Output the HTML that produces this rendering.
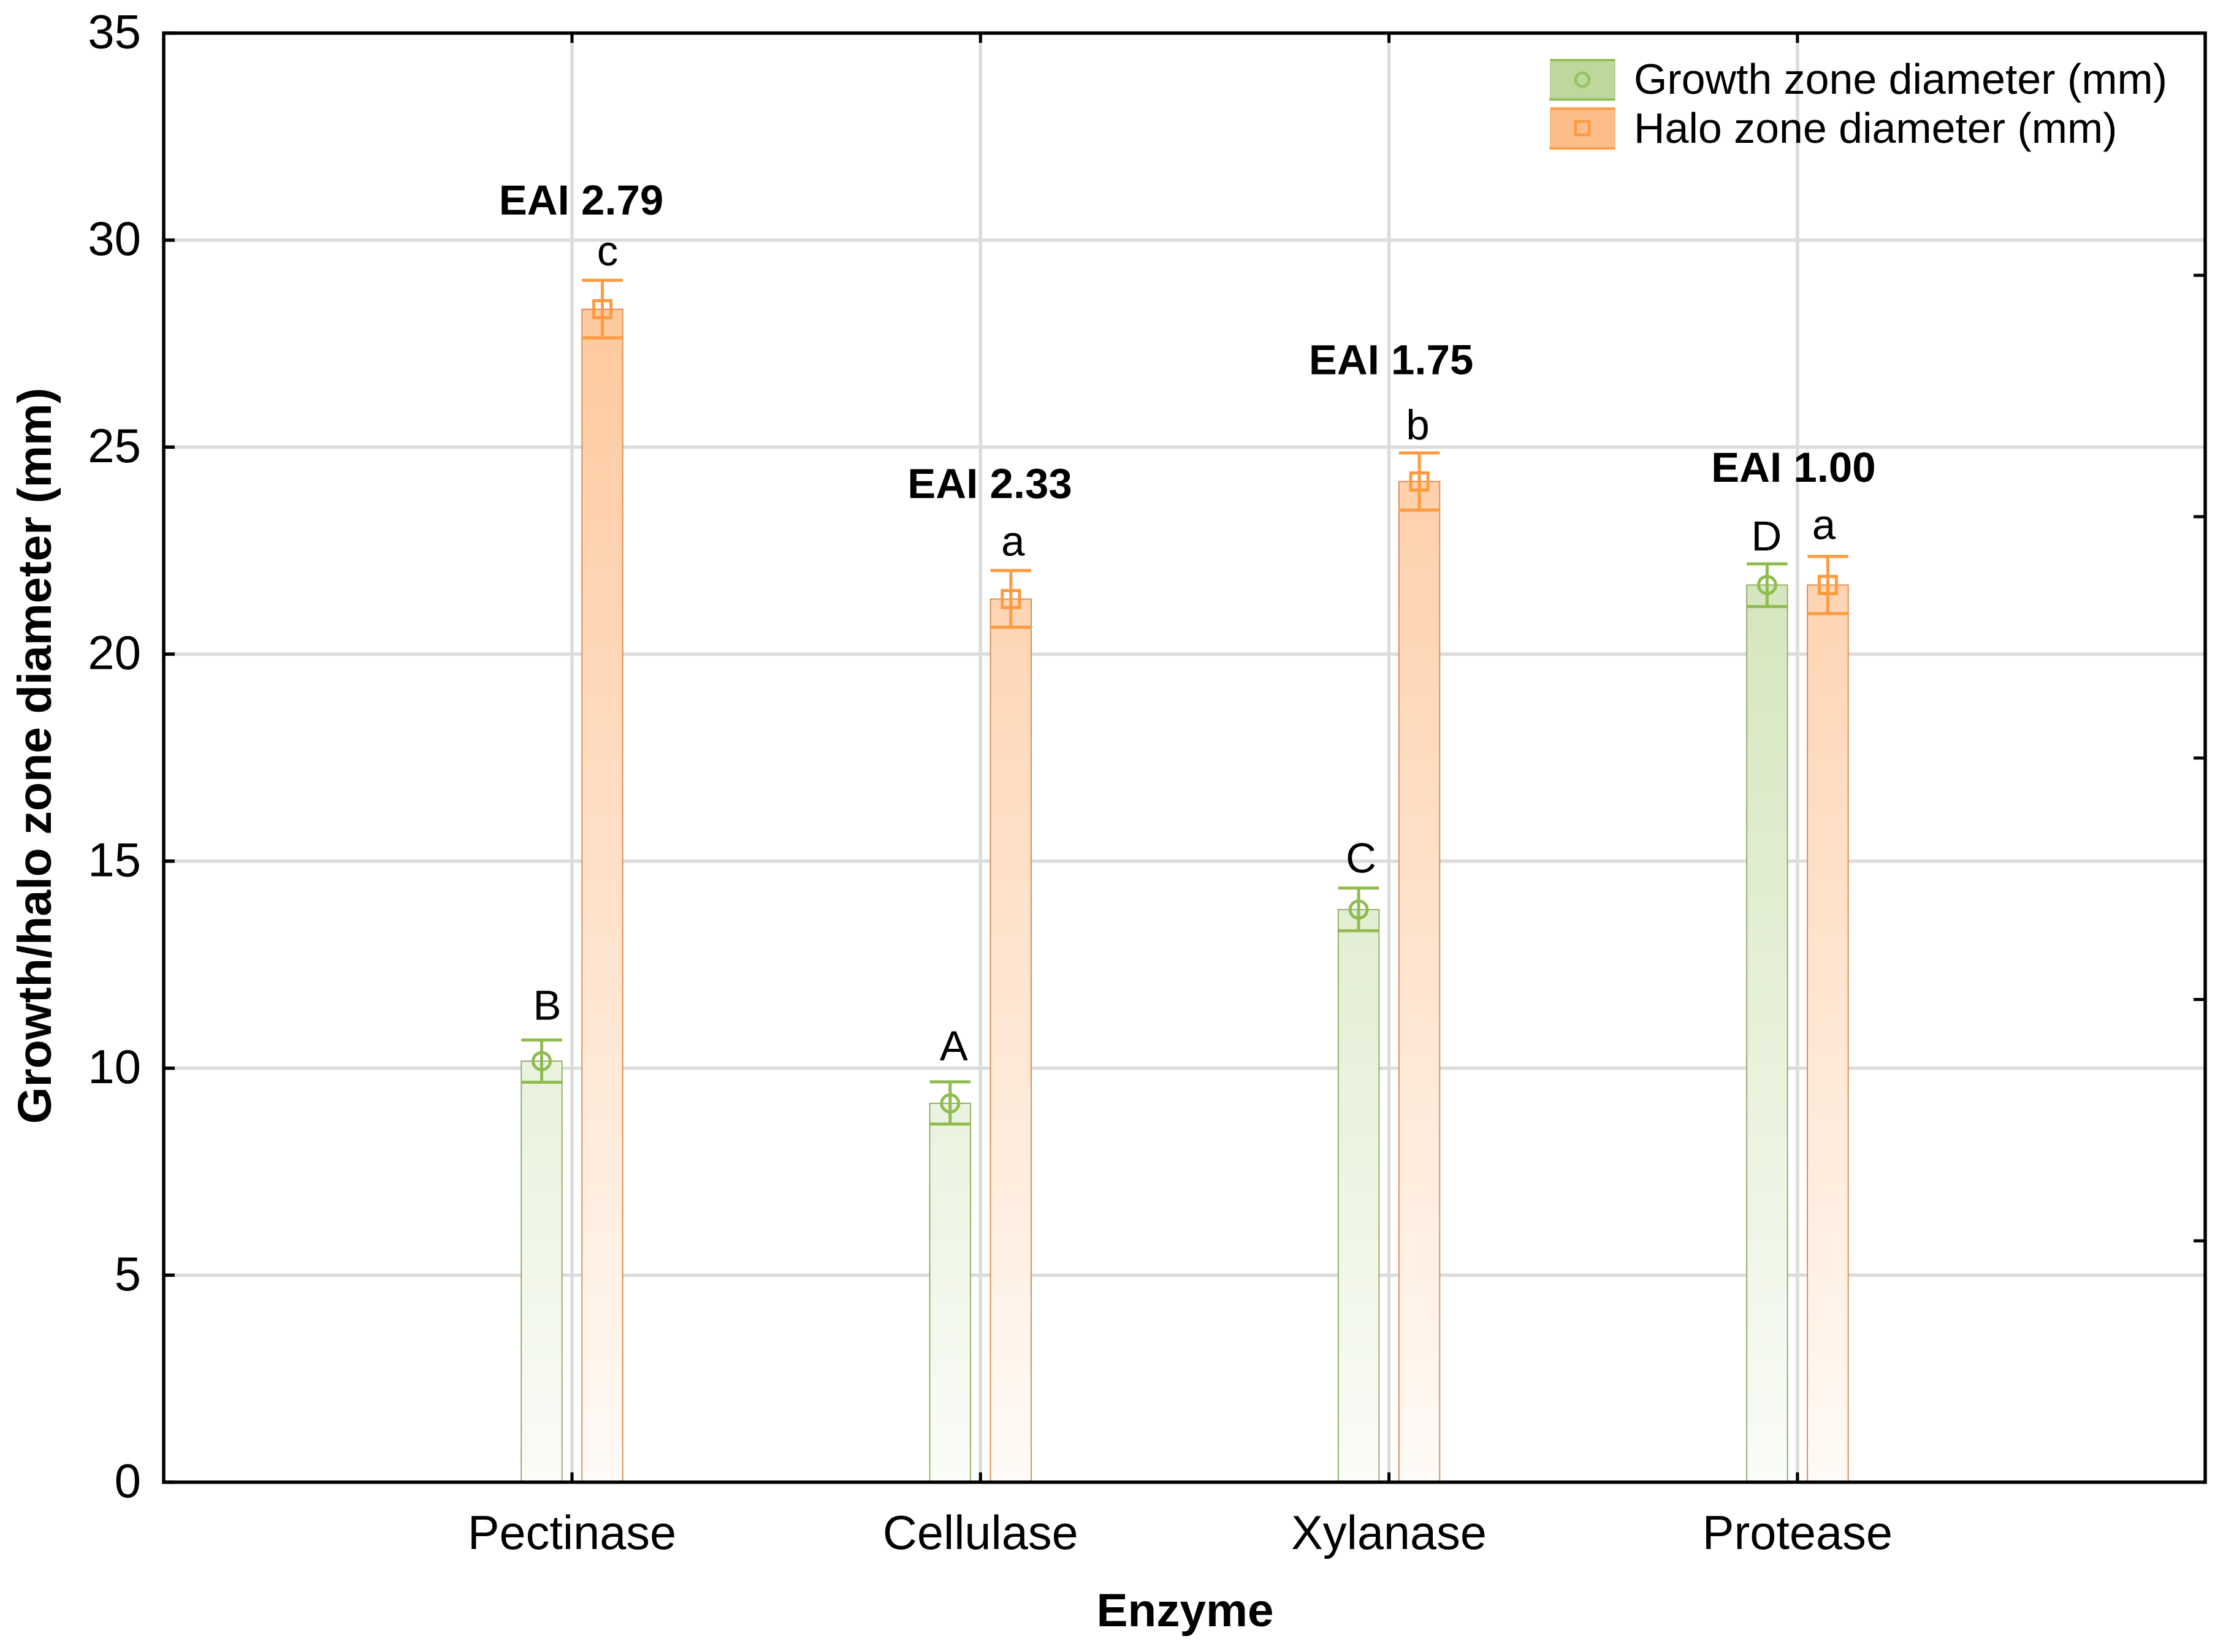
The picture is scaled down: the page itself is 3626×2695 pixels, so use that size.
<!DOCTYPE html>
<html lang="en">
<head>
<meta charset="utf-8">
<title>Growth and halo zone diameter by enzyme</title>
<style>
html,body{margin:0;padding:0;background:#fff;}
svg{display:block;font-family:"Liberation Sans",Arial,sans-serif;}
</style>
</head>
<body>
<svg id="chart" xmlns="http://www.w3.org/2000/svg" width="3626" height="2695" viewBox="0 0 3626 2695">
<defs>
<linearGradient id="greenGrad" gradientUnits="userSpaceOnUse" x1="0" y1="54" x2="0" y2="2418">
<stop offset="0" stop-color="#bdd89a"/><stop offset="1" stop-color="#fafcf7"/>
</linearGradient>
<linearGradient id="orangeGrad" gradientUnits="userSpaceOnUse" x1="0" y1="54" x2="0" y2="2418">
<stop offset="0" stop-color="#fdbd89"/><stop offset="1" stop-color="#fffaf6"/>
</linearGradient>
</defs>
<rect x="0" y="0" width="3626" height="2695" fill="#ffffff"/>
<g id="grid"></g>
<g id="marks"></g>
<g id="frame"></g>
<g id="labels"></g>
<text x="1933" y="2653" font-size="76.5" font-weight="700" text-anchor="middle">Enzyme</text>
<text transform="translate(83,1233) rotate(-90)" font-size="77.2" font-weight="700" text-anchor="middle">Growth/halo zone diameter (mm)</text>
<g>
<rect x="2529" y="97" width="105" height="66" fill="#bdd89a" stroke="#a9c884" stroke-width="1.5"/>
<line x1="2529" x2="2634" y1="98" y2="98" stroke="#8fbc50" stroke-width="3.5"/>
<line x1="2527" x2="2634" y1="162.500" y2="162.500" stroke="#8fbc50" stroke-width="3.5"/>
<circle cx="2581" cy="130" r="11" fill="none" stroke="#93c35c" stroke-width="4.500"/>
<text x="2665" y="153" font-size="69.9">Growth zone diameter (mm)</text>
<rect x="2529" y="176" width="105" height="67" fill="#fdbd89" stroke="#f2ae78" stroke-width="1.5"/>
<line x1="2529" x2="2634" y1="177" y2="177" stroke="#ff9a3f" stroke-width="3.5"/>
<line x1="2527" x2="2634" y1="242" y2="242" stroke="#ff9a3f" stroke-width="3.5"/>
<rect x="2570" y="198" width="22" height="22" fill="none" stroke="#ff9a3f" stroke-width="4.500"/>
<text x="2665" y="233" font-size="69.9">Halo zone diameter (mm)</text>
</g>
</svg>
<script>
const categories = ["Pectinase", "Cellulase", "Xylanase", "Protease"];
const yTickLabels = [0, 5, 10, 15, 20, 25, 30, 35];
const growthValues = [10.17, 9.15, 13.83, 21.67];
const growthErrorTop = [10.68, 9.67, 14.35, 22.18];
const growthErrorBottom = [9.66, 8.65, 13.32, 21.15];
const haloValues = [28.33, 21.33, 24.17, 21.67];
const haloErrorTop = [29.03, 22.02, 24.86, 22.36];
const haloErrorBottom = [27.64, 20.65, 23.48, 20.98];
const growthLetters = ["B", "A", "C", "D"];
const haloLetters = ["c", "a", "b", "a"];
const eaiLabels = ["EAI 2.79", "EAI 2.33", "EAI 1.75", "EAI 1.00"];
const eaiHeights = [30.62, 23.77, 26.76, 24.16];
const rightTickValues = [5.83, 11.66, 17.49, 23.32, 29.15];

const NS = "http://www.w3.org/2000/svg";
const plotLeft = 267, plotRight = 3597, plotTop = 54, plotBottom = 2418;
const yMax = 35;
const firstCategoryX = 933, categoryStep = 666.3;
const barOffset = 49.5, barWidth = 66.5;
const layoutNudge = {
  growthLetterX: [9, 6, 4, -1],
  growthLetterY: [33, 35, 25.5, 22],
  haloLetterX: [8.500, 3.500, -2.500, -6.500],
  haloLetterY: [24, 24, 22, 28],
  eaiX: [15, 15.2, 3.5, -6.500]
};

function y(v) { return plotBottom - (v / yMax) * (plotBottom - plotTop); }
function x(i) { return firstCategoryX + i * categoryStep; }
function make(tag, attrs, parent) {
  const el = document.createElementNS(NS, tag);
  for (const k in attrs) el.setAttribute(k, attrs[k]);
  parent.appendChild(el);
  return el;
}

const grid = document.getElementById("grid");
const marks = document.getElementById("marks");
const frame = document.getElementById("frame");
const labels = document.getElementById("labels");

yTickLabels.forEach(function (v) {
  if (v === 0 || v === yMax) return;
  const g = make("line", { x1: plotLeft, x2: plotRight, y1: y(v), y2: y(v), stroke: "#dcdcdc", "stroke-width": 5.5 }, grid);
  
  
});
categories.forEach(function (c, i) {
  const g = make("line", { x1: x(i), x2: x(i), y1: plotTop, y2: plotBottom, stroke: "#dcdcdc", "stroke-width": 5.5 }, grid);
  
  
});

function drawSeries(name, values, top, bottom, offset, fill, edge, accent, isCircle) {
  values.forEach(function (v, i) {
    const cx = x(i) + offset;
    const slug = name + '-' + categories[i].toLowerCase();
    const bar = make("rect", { x: cx - barWidth / 2, y: y(v), width: barWidth, height: plotBottom - y(v), fill: fill, stroke: edge, "stroke-width": 1.8 }, marks);
    
    
    const stem = make("line", { x1: cx, x2: cx, y1: y(top[i]), y2: y(bottom[i]), stroke: accent, "stroke-width": 5 }, marks);
    
    
    const capTop = make("line", { x1: cx - barWidth / 2, x2: cx + barWidth / 2, y1: y(top[i]), y2: y(top[i]), stroke: accent, "stroke-width": 5 }, marks);
    
    
    const capBottom = make("line", { x1: cx - barWidth / 2, x2: cx + barWidth / 2, y1: y(bottom[i]), y2: y(bottom[i]), stroke: accent, "stroke-width": 5 }, marks);
    
    
    let marker;
    if (isCircle) {
      marker = make("circle", { cx: cx, cy: y(v), r: 14, fill: "none", stroke: accent, "stroke-width": 5 }, marks);
    } else {
      marker = make("rect", { x: cx - 14, y: y(v) - 14, width: 28, height: 28, fill: "none", stroke: accent, "stroke-width": 5 }, marks);
    }
    
    
  });
}
drawSeries("growth", growthValues, growthErrorTop, growthErrorBottom, -barOffset, "url(#greenGrad)", "#8aa85f", "#8fbc50", true);
drawSeries("halo", haloValues, haloErrorTop, haloErrorBottom, barOffset, "url(#orangeGrad)", "#d9874a", "#ff9a3f", false);

/* frame */
const box = make("rect", { x: plotLeft, y: plotTop, width: plotRight - plotLeft, height: plotBottom - plotTop, fill: "none", stroke: "#000", "stroke-width": 5.500 }, frame);


yTickLabels.forEach(function (v) {
  const t = make("line", { x1: plotLeft, x2: plotLeft + 18, y1: y(v), y2: y(v), stroke: "#000", "stroke-width": 5.500 }, frame);
  
  
});
categories.forEach(function (c, i) {
  const b = make("line", { x1: x(i), x2: x(i), y1: plotBottom, y2: plotBottom - 16, stroke: "#000", "stroke-width": 5 }, frame);
  
  
  const t = make("line", { x1: x(i), x2: x(i), y1: plotTop, y2: plotTop + 16, stroke: "#000", "stroke-width": 5 }, frame);
  
  
});
rightTickValues.forEach(function (v, i) {
  const t = make("line", { x1: plotRight - 19, x2: plotRight, y1: y(v), y2: y(v), stroke: "#000", "stroke-width": 5 }, frame);
  
  
});

/* text */
function label(str, px, py, size, weight, anchor, parent) {
  const el = make("text", { x: px, y: py, "font-size": size, "font-weight": weight, "text-anchor": anchor }, parent);
  el.textContent = str;
  return el;
}
yTickLabels.forEach(function (v) {
  const t = label(String(v), 230, y(v) + 24.5, 78, 400, "end", labels);
  
  
});
categories.forEach(function (c, i) {
  const t = label(c, x(i), 2527, 77.5, 400, "middle", labels);
  
  
  const g = label(growthLetters[i], x(i) - barOffset + layoutNudge.growthLetterX[i], y(growthErrorTop[i]) - layoutNudge.growthLetterY[i], 69, 400, "middle", labels);
  
  
  const h = label(haloLetters[i], x(i) + barOffset + layoutNudge.haloLetterX[i], y(haloErrorTop[i]) - layoutNudge.haloLetterY[i], 69, 400, "middle", labels);
  
  
  const e = label(eaiLabels[i], x(i) + layoutNudge.eaiX[i], y(eaiHeights[i]), 69, 700, "middle", labels);
  
  
});
</script>
</body>
</html>
